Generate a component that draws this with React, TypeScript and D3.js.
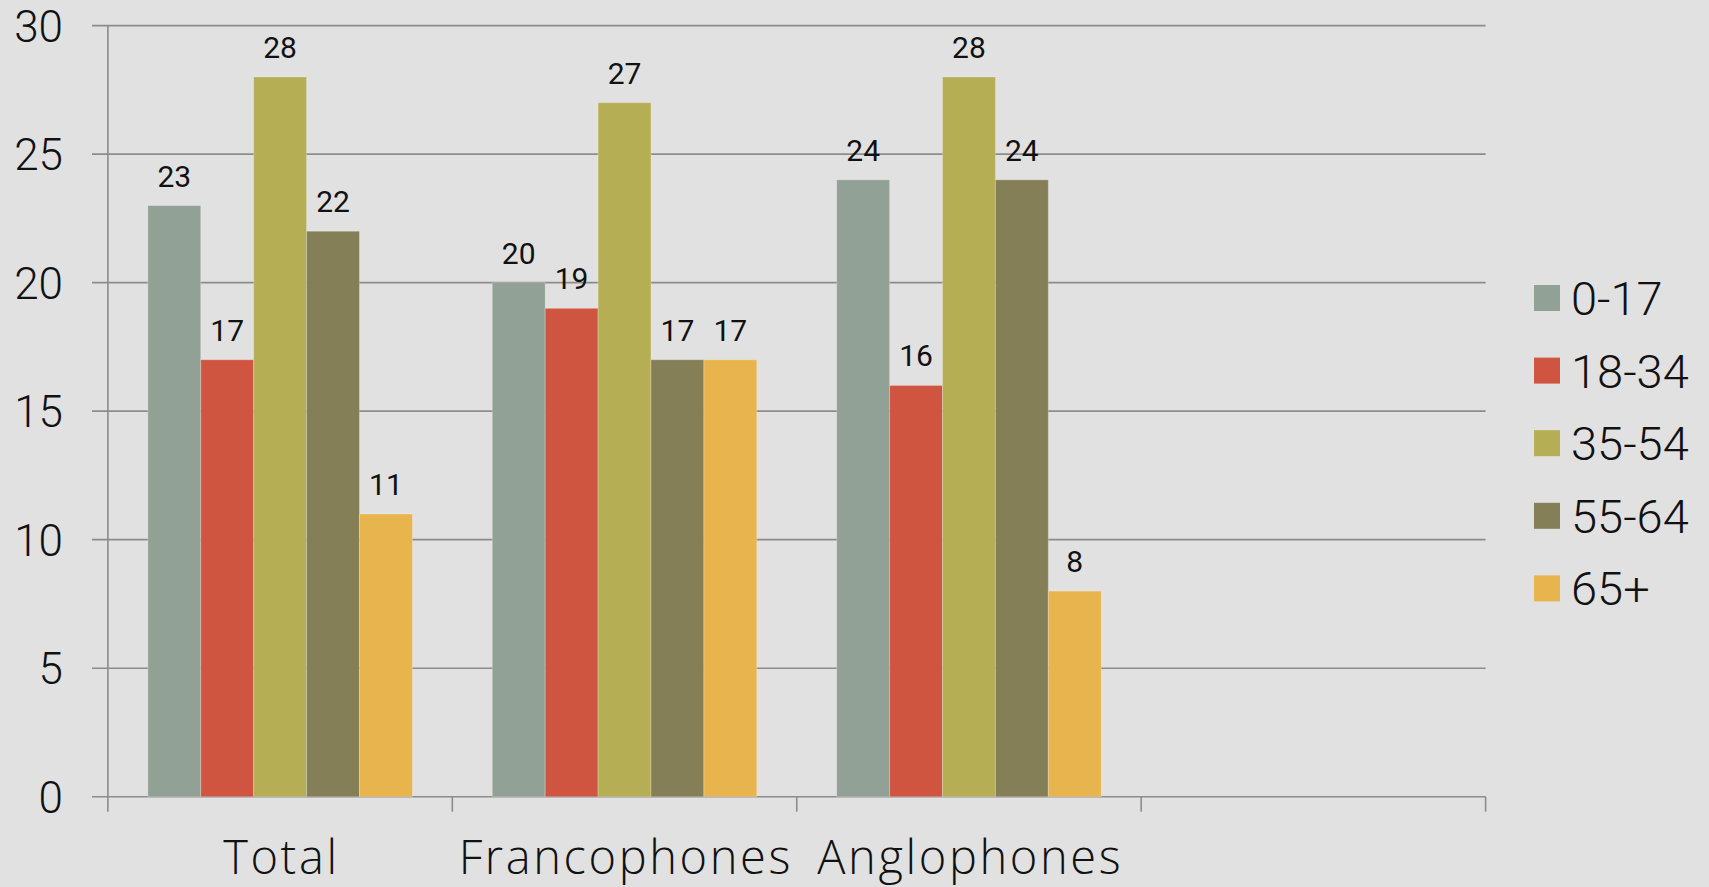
import React from "react";
import * as d3 from "d3";

const categories = ["Total", "Francophones", "Anglophones", ""];
const seriesNames = ["0-17", "18-34", "35-54", "55-64", "65+"];
const seriesColors = ["#91A195", "#D05540", "#B5AE55", "#857F57", "#E8B44D"];
const total = [23, 17, 28, 22, 11];
const francophones = [20, 19, 27, 17, 17];
const anglophones = [24, 16, 28, 24, 8];
const yTicks = [0, 5, 10, 15, 20, 25, 30];

const groupValues: (number[] | null)[] = [total, francophones, anglophones, null];

export default function App() {
  const W = 1709;
  const H = 887;
  const left = 107.9;
  const right = 1485.6;
  const top = 25.6;
  const bottom = 796.7;

  const x = d3.scaleBand<string>().domain(categories.map((c, i) => String(i))).range([left, right]);
  const inner = d3.scaleBand<string>().domain(seriesNames).range([0, x.bandwidth()]).paddingInner(0).paddingOuter(0.755);
  const y = d3.scaleLinear().domain([0, 30]).range([bottom, top]);

  const gridColor = "#8c8c8c";
  const num = "Roboto, 'Noto Sans', sans-serif";

  return (
    <svg width={W} height={H} style={{ position: "absolute", left: 0, top: 0 }}>
      <rect x={0} y={0} width={W} height={H} fill="#e1e1e1" />
      {yTicks.map((t) => (
        <g key={t}>
          <line x1={92} x2={right} y1={y(t)} y2={y(t)} stroke={gridColor} strokeWidth={1.6} />
          <text x={63} y={y(t) + 16} textAnchor="end" fontFamily={num} fontWeight={300} fontSize={44} fill="#111">
            {t}
          </text>
        </g>
      ))}
      <line x1={left} x2={left} y1={top} y2={bottom + 15} stroke={gridColor} strokeWidth={1.6} />
      {categories.map((c, i) => {
        const bx = x(String(i))!;
        return (
          <line key={"tk" + i} x1={bx + x.bandwidth()} x2={bx + x.bandwidth()} y1={bottom} y2={bottom + 15} stroke={gridColor} strokeWidth={1.6} />
        );
      })}
      {groupValues.map((vals, gi) => {
        if (!vals) return null;
        const gx = x(String(gi))!;
        return (
          <g key={"g" + gi}>
            {vals.map((v, si) => {
              const bx = gx + inner(seriesNames[si])!;
              return (
                <g key={si}>
                  <rect
                    x={bx}
                    y={y(v)}
                    width={inner.bandwidth()}
                    height={bottom - y(v)}
                    fill={seriesColors[si]}
                    stroke="#ffffff"
                    strokeOpacity={0.25}
                    strokeWidth={1}
                  />
                  <text x={bx + inner.bandwidth() / 2} y={y(v) - 19} textAnchor="middle" fontFamily={num} fontSize={30} fill="#111">
                    {v}
                  </text>
                </g>
              );
            })}
          </g>
        );
      })}
      {categories.map((c, i) => (
        <text
          key={"c" + i}
          x={x(String(i))! + x.bandwidth() / 2 + 1.3}
          y={874}
          textAnchor="middle"
          fontFamily="'Open Sans', sans-serif"
          fontWeight={300}
          fontSize={47}
          letterSpacing={2.6}
          fill="#111"
        >
          {c}
        </text>
      ))}
      {seriesNames.map((s, i) => {
        const cy = 298 + i * 72.6;
        return (
          <g key={"l" + i}>
            <rect x={1534} y={cy - 13} width={26} height={26} fill={seriesColors[i]} />
            <text x={1571} y={cy + 17} fontFamily={num} fontWeight={300} fontSize={47} fill="#111">
              {s}
            </text>
          </g>
        );
      })}
    </svg>
  );
}
